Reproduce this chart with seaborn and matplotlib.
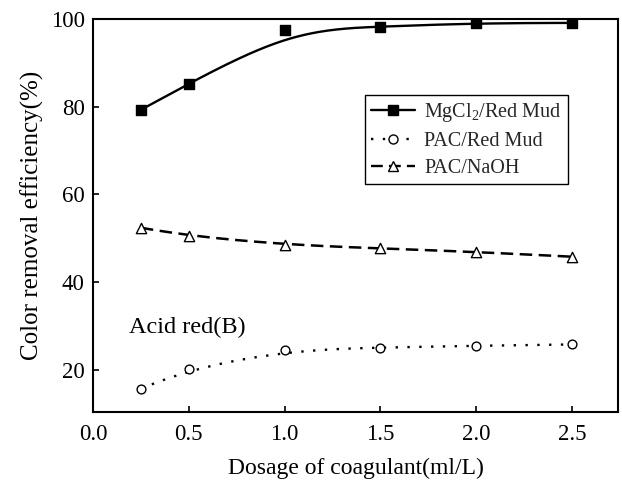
import numpy as np
import pandas as pd
import matplotlib
matplotlib.use("Agg")
import matplotlib.pyplot as plt
from matplotlib.lines import Line2D
import seaborn as sns

dosage = [0.25, 0.5, 1.0, 1.5, 2.0, 2.5]
mgcl2_red_mud = [79.3, 85.2, 97.5, 98.2, 99.1, 99.1]
pac_red_mud = [15.7, 20.3, 24.5, 25.1, 25.5, 25.8]
pac_naoh = [52.4, 50.5, 48.5, 47.7, 46.9, 45.8]
series_names = ["MgCl$_2$/Red Mud", "PAC/Red Mud", "PAC/NaOH"]


def bspline_curve(x, y, degree=3, n=300):
    """Clamped uniform B-spline that uses the data points as control points."""
    P = np.column_stack([np.asarray(x, float), np.asarray(y, float)])
    m = len(P)
    k = degree
    inner = np.linspace(0, 1, m - k + 1)
    knots = np.concatenate([np.zeros(k), inner, np.ones(k)])
    ts = np.linspace(0, 1, n)
    ts[-1] -= 1e-12

    def basis(i, p, t):
        if p == 0:
            return np.where((knots[i] <= t) & (t < knots[i + 1]), 1.0, 0.0)
        out = np.zeros_like(t)
        d1 = knots[i + p] - knots[i]
        d2 = knots[i + p + 1] - knots[i + 1]
        if d1 > 0:
            out += (t - knots[i]) / d1 * basis(i, p - 1, t)
        if d2 > 0:
            out += (knots[i + p + 1] - t) / d2 * basis(i + 1, p - 1, t)
        return out

    B = np.column_stack([basis(i, k, ts) for i in range(m)])
    C = B @ P
    return C[:, 0], C[:, 1]


sns.set_theme(style="white")
plt.rcParams["font.family"] = ["Liberation Serif", "DejaVu Serif"]
plt.rcParams["mathtext.default"] = "regular"

fig = plt.figure(figsize=(6.22, 4.84), dpi=100)
ax = fig.add_axes([0.1495, 0.1488, 0.8441, 0.8120])

points = pd.DataFrame({
    "dosage": dosage * 3,
    "eff": mgcl2_red_mud + pac_red_mud + pac_naoh,
    "series": sum([[s] * len(dosage) for s in series_names], []),
})

# smooth connecting curves
xs1, ys1 = bspline_curve(dosage, mgcl2_red_mud)
xs2, ys2 = bspline_curve(dosage, pac_red_mud)
xs3, ys3 = bspline_curve(dosage, pac_naoh)

dot_style = (0, (1, 4))
dash_style = (0, (5, 2.6))
sns.lineplot(x=xs1, y=ys1, ax=ax, color="black", lw=1.7, linestyle="-",
             sort=False, estimator=None)
sns.lineplot(x=xs2, y=ys2, ax=ax, color="black", lw=1.7, linestyle=dot_style,
             sort=False, estimator=None)
sns.lineplot(x=xs3, y=ys3, ax=ax, color="black", lw=1.8, linestyle=dash_style,
             sort=False, estimator=None)

styles = {
    series_names[0]: dict(marker="s", s=42, facecolor="black"),
    series_names[1]: dict(marker="o", s=40, facecolor="white"),
    series_names[2]: dict(marker="^", s=55, facecolor="white"),
}
for name, st in styles.items():
    sub = points[points["series"] == name]
    sns.scatterplot(data=sub, x="dosage", y="eff", ax=ax, marker=st["marker"],
                    s=st["s"], facecolor=st["facecolor"], edgecolor="black",
                    linewidth=1.0, zorder=3)

ax.set_xlim(0, 2.74)
ax.set_ylim(10.4, 100)
ax.set_xticks([0.0, 0.5, 1.0, 1.5, 2.0, 2.5])
ax.set_xticklabels(["0.0", "0.5", "1.0", "1.5", "2.0", "2.5"])
ax.set_yticks([20, 40, 60, 80, 100])
ax.tick_params(axis="both", direction="in", length=4, width=1.2, labelsize=16.5,
               colors="black", bottom=True, left=True, top=False, right=False)
ax.tick_params(axis="x", pad=9)
ax.tick_params(axis="y", pad=6)
for sp in ax.spines.values():
    sp.set_color("black")
    sp.set_linewidth(1.5)

ax.set_xlabel("Dosage of coagulant(ml/L)", fontsize=17, color="black", labelpad=9)
ax.set_ylabel("Color removal efficiency(%)", fontsize=18, color="black", labelpad=5)

ax.text(0.19, 28.5, "Acid red(B)", fontsize=17.5, color="black", ha="left", va="baseline")

handles = [
    Line2D([], [], color="black", lw=1.7, marker="s", markersize=7,
           markerfacecolor="black", markeredgecolor="black"),
    Line2D([], [], color="black", lw=1.7, linestyle=dot_style, marker="o",
           markersize=6.5, markerfacecolor="white", markeredgecolor="black"),
    Line2D([], [], color="black", lw=1.7, linestyle=dash_style, marker="^",
           markersize=7, markerfacecolor="white", markeredgecolor="black"),
]
leg = ax.legend(handles, series_names, loc="upper left",
                bbox_to_anchor=(0.518, 0.807), fontsize=14.5, frameon=True,
                fancybox=False, edgecolor="black", framealpha=1,
                handlelength=2.2, handletextpad=0.45, labelspacing=0.4,
                borderpad=0.3, borderaxespad=0)
leg.get_frame().set_linewidth(1.0)

fig.savefig("out.png", dpi=100)
